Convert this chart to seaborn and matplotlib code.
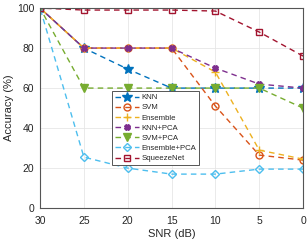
import seaborn as sns
import matplotlib.pyplot as plt

snr = [30, 25, 20, 15, 10, 5, 0]

knn = [100, 80, 69.5, 60, 60, 60, 60]
svm = [100, 80, 80, 80, 51, 26.5, 24]
ensemble = [100, 80, 80, 80, 68, 29, 24.5]
knn_pca = [100, 80, 80, 80, 70, 62, 60]
svm_pca = [100, 60, 60, 60, 60, 60, 50]
ensemble_pca = [100, 25.5, 20, 17, 17, 19.5, 19.5]
squeezenet = [100, 99, 99, 99, 98.5, 88, 76]

names = ["KNN", "SVM", "Ensemble", "KNN+PCA", "SVM+PCA", "Ensemble+PCA", "SqueezeNet"]
series = [knn, svm, ensemble, knn_pca, svm_pca, ensemble_pca, squeezenet]
colors = ["#0072BD", "#D95319", "#EDB120", "#7E2F8E", "#77AC30", "#4DBEEE", "#A2142F"]
markers = ["*", "o", "+", "X", "v", "D", "s"]
filled = [True, False, True, True, True, False, False]
msizes = [7, 5, 6, 4, 6, 4, 4.5]

sns.set_theme(style="whitegrid")
plt.rcParams['font.family'] = ['Liberation Sans', 'DejaVu Sans']

fig = plt.figure(figsize=(3.08, 2.44), dpi=100)
ax = fig.add_axes([0.13, 0.147, 0.854, 0.82])

for name, vals, c, m, f, ms in zip(names, series, colors, markers, filled, msizes):
    sns.lineplot(x=snr, y=vals, ax=ax, color=c, marker=m, linestyle=(0, (4, 3)),
                 linewidth=1, markersize=ms, label=name,
                 markerfacecolor=c if f else 'none', markeredgecolor=c,
                 markeredgewidth=1)

ax.set_xlim(30, 0)
ax.set_ylim(0, 100)
ax.set_xticks([30, 25, 20, 15, 10, 5, 0])
ax.set_yticks([0, 20, 40, 60, 80, 100])
ax.set_xlabel("SNR (dB)", fontsize=8, labelpad=2)
ax.set_ylabel("Accuracy (%)", fontsize=8, labelpad=2)
ax.tick_params(labelsize=7.5, length=0)
ax.tick_params(axis='x', pad=6)
ax.tick_params(axis='y', pad=4)
ax.grid(True, color="#e6e6e6", linewidth=0.6)
ax.set_facecolor("white")
for s in ax.spines.values():
    s.set_visible(True)
    s.set_color("#555555")
    s.set_linewidth(0.8)

leg = ax.legend(loc="center", bbox_to_anchor=(0.44, 0.40), fontsize=5.6,
                frameon=True, fancybox=False, framealpha=1, edgecolor="#555555",
                handlelength=3, handletextpad=0.4, labelspacing=0.35,
                borderpad=0.4)
leg.get_frame().set_linewidth(0.7)

fig.savefig("out.png", dpi=100)
